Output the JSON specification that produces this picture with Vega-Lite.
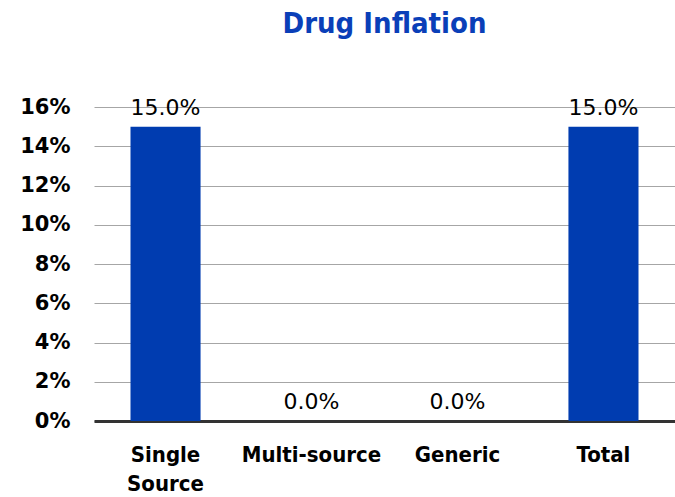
{
  "$schema": "https://vega.github.io/schema/vega-lite/v6.json",
  "autosize": "none",
  "width": 581,
  "height": 314,
  "padding": {"left": 94, "top": 107, "right": 0, "bottom": 76},
  "background": "white",
  "title": {
    "text": "Drug Inflation",
    "font": "DejaVu Sans Condensed",
    "fontSize": 29,
    "fontWeight": "bold",
    "color": "#0a3fb8",
    "anchor": "middle",
    "baseline": "alphabetic",
    "offset": 34
  },
  "data": {
    "values": [
      {"category": "Single\nSource", "inflation": 0.15},
      {"category": "Multi-source", "inflation": 0.0},
      {"category": "Generic", "inflation": 0.0},
      {"category": "Total", "inflation": 0.15}
    ]
  },
  "encoding": {
    "x": {
      "field": "category",
      "type": "nominal",
      "sort": null,
      "scale": {"paddingInner": 0.52, "paddingOuter": 0.25},
      "axis": {
        "title": null,
        "labelAngle": 0,
        "labelExpr": "split(datum.label, '\\n')",
        "labelFont": "DejaVu Sans Condensed",
        "labelFontSize": 22,
        "labelFontWeight": "bold",
        "labelColor": "#000000",
        "labelLineHeight": 29,
        "labelBaseline": "top",
        "labelPadding": 23,
        "ticks": false,
        "domainColor": "#333333",
        "domainWidth": 3
      }
    },
    "y": {
      "field": "inflation",
      "type": "quantitative",
      "scale": {"domain": [0, 0.16], "nice": false},
      "axis": {
        "title": null,
        "values": [0, 0.02, 0.04, 0.06, 0.08, 0.1, 0.12, 0.14, 0.16],
        "format": ".0%",
        "labelFont": "DejaVu Sans",
        "labelFontSize": 21,
        "labelFontWeight": "bold",
        "labelColor": "#000000",
        "labelPadding": 24,
        "ticks": false,
        "domain": false,
        "gridColor": "#a6a6a6",
        "gridWidth": 1
      }
    }
  },
  "layer": [
    {"mark": {"type": "bar", "color": "#003cb0"}},
    {
      "mark": {
        "type": "text",
        "font": "DejaVu Sans",
        "fontSize": 22,
        "color": "#000000",
        "baseline": "alphabetic",
        "dy": -12
      },
      "encoding": {
        "text": {"field": "inflation", "type": "quantitative", "format": ".1%"}
      }
    }
  ],
  "config": {"view": {"stroke": null}}
}
